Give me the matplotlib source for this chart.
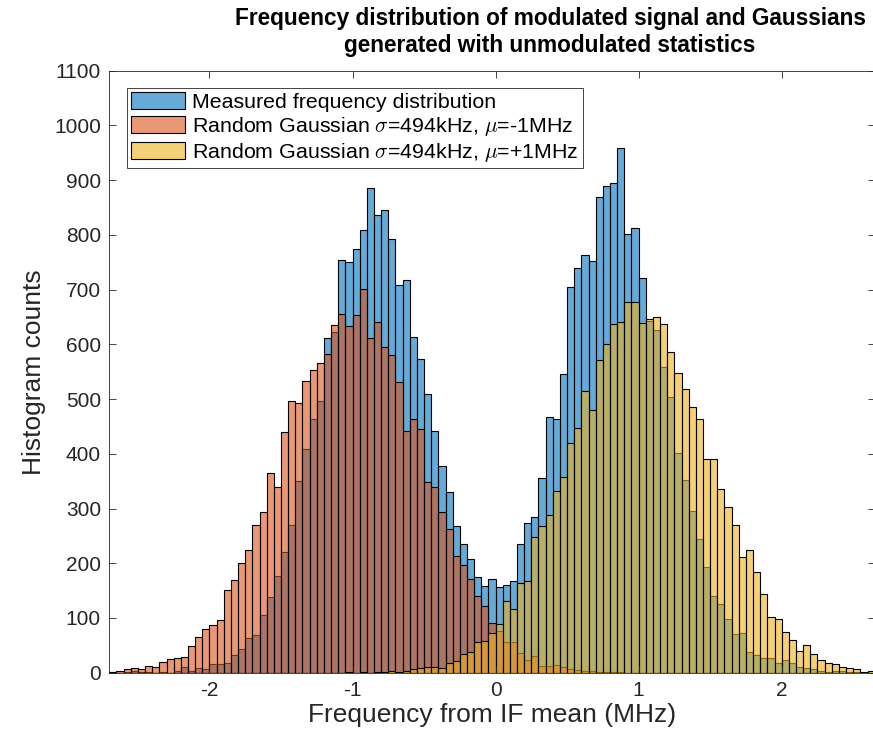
import matplotlib
matplotlib.use('Agg')
from matplotlib import pyplot as plt
from matplotlib.patches import Patch
import numpy as np

# histogram bins: 0.05 MHz wide starting at -2.7 MHz
bin_start = -2.7
bin_width = 0.05

measured = [1, 0, 2, 3, 2, 2, 0, 2, 0, 3,
            11, 4, 8, 6, 16, 15, 18, 32, 44, 63,
            69, 105, 139, 177, 221, 269, 350, 409, 463, 496,
            611, 622, 755, 750, 775, 809, 886, 836, 845, 792,
            709, 717, 614, 573, 510, 442, 378, 330, 268, 236,
            208, 175, 158, 172, 156, 160, 168, 235, 274, 284,
            356, 467, 463, 545, 704, 739, 763, 752, 869, 889,
            894, 958, 802, 812, 721, 642, 627, 558, 503, 401,
            353, 296, 245, 194, 140, 126, 99, 71, 72, 38,
            32, 26, 26, 17, 23, 18, 10, 8, 6, 4,
            2, 4, 4, 2, 1, 0, 0]

gauss_neg = [2, 4, 7, 8, 6, 13, 10, 19, 25, 26,
             29, 49, 65, 80, 87, 96, 152, 169, 201, 224,
             269, 293, 365, 339, 439, 497, 492, 533, 554, 565,
             583, 635, 655, 634, 653, 702, 611, 641, 596, 580,
             531, 441, 463, 445, 348, 340, 293, 262, 213, 196,
             172, 140, 121, 90, 76, 57, 57, 36, 24, 31,
             12, 13, 14, 10, 7, 5, 3, 3, 2, 1,
             2, 1, 0, 0, 0, 0, 0, 0, 0, 0,
             0, 0, 0, 0, 0, 0, 0, 0, 0, 0,
             0, 0, 0, 0, 0, 0, 0, 0, 0, 0,
             0, 0, 0, 0, 0, 0, 0]

gauss_pos = [0, 0, 0, 0, 0, 0, 0, 0, 0, 0,
             0, 0, 0, 0, 0, 0, 0, 0, 0, 0,
             0, 0, 0, 0, 0, 0, 0, 0, 0, 0,
             0, 0, 0, 1, 0, 1, 0, 2, 1, 3,
             2, 3, 7, 9, 10, 10, 9, 17, 21, 35,
             37, 57, 58, 73, 89, 131, 116, 164, 168, 248,
             268, 288, 332, 358, 420, 448, 515, 480, 572, 601,
             637, 641, 677, 677, 639, 646, 650, 637, 586, 547,
             518, 486, 463, 390, 390, 335, 303, 269, 212, 224,
             184, 144, 101, 99, 74, 60, 39, 50, 34, 23,
             17, 16, 11, 9, 7, 2, 4]

labels = ['Measured frequency distribution',
          r'Random Gaussian $\sigma$=494kHz, $\mu$=-1MHz',
          r'Random Gaussian $\sigma$=494kHz, $\mu$=+1MHz']

plt.rcParams['font.family'] = ['Liberation Sans', 'DejaVu Sans']
plt.rcParams['mathtext.fontset'] = 'cm'
plt.rcParams['axes.unicode_minus'] = False

c_blue = (0.0, 0.447, 0.741, 0.6)
c_orange = (0.85, 0.325, 0.098, 0.6)
c_yellow = (0.929, 0.694, 0.125, 0.6)
axcol = '#262626'

left_edges = bin_start + bin_width * np.arange(len(measured))

fig = plt.figure(figsize=(8.73, 7.36), dpi=100)
ax = fig.add_axes([109.3 / 873, 1 - 672.7 / 736, 765.4 / 873, 602 / 736])

for vals, col in [(measured, c_blue), (gauss_neg, c_orange), (gauss_pos, c_yellow)]:
    ax.bar(left_edges, vals, width=bin_width, align='edge', color=col,
           edgecolor='black', linewidth=0.8)

ax.set_xlim(bin_start, bin_start + bin_width * len(measured))
ax.set_ylim(0, 1100)
ax.set_xticks([-2, -1, 0, 1, 2])
ax.set_yticks(np.arange(0, 1101, 100))
ax.tick_params(direction='in', top=True, right=True, length=5, width=0.6,
               labelsize=15, colors=axcol, pad=6)
for sp in ax.spines.values():
    sp.set_color(axcol)
    sp.set_linewidth(0.6)

ax.set_xlabel('Frequency from IF mean (MHz)', fontsize=19, color=axcol, labelpad=2)
ax.set_ylabel('Histogram counts', fontsize=19, color=axcol, labelpad=6)
fig.text(550 / 873, 1 - 32 / 736,
         'Frequency distribution of modulated signal and Gaussians\n'
         'generated with unmodulated statistics',
         ha='center', va='center', fontsize=16.3, fontweight='bold',
         linespacing=1.2)

handles = [Patch(facecolor=c, edgecolor='black', linewidth=0.8)
           for c in (c_blue, c_orange, c_yellow)]
leg = ax.legend(handles, labels, loc='upper left', bbox_to_anchor=(0.023, 0.971),
                borderaxespad=0, fontsize=15.4, handlelength=2.55, handleheight=0.85,
                handletextpad=0.33, labelspacing=0.15, borderpad=0.18,
                fancybox=False, framealpha=1)
leg.get_frame().set_edgecolor(axcol)
leg.get_frame().set_linewidth(0.6)

fig.savefig('out.png', dpi=100)
